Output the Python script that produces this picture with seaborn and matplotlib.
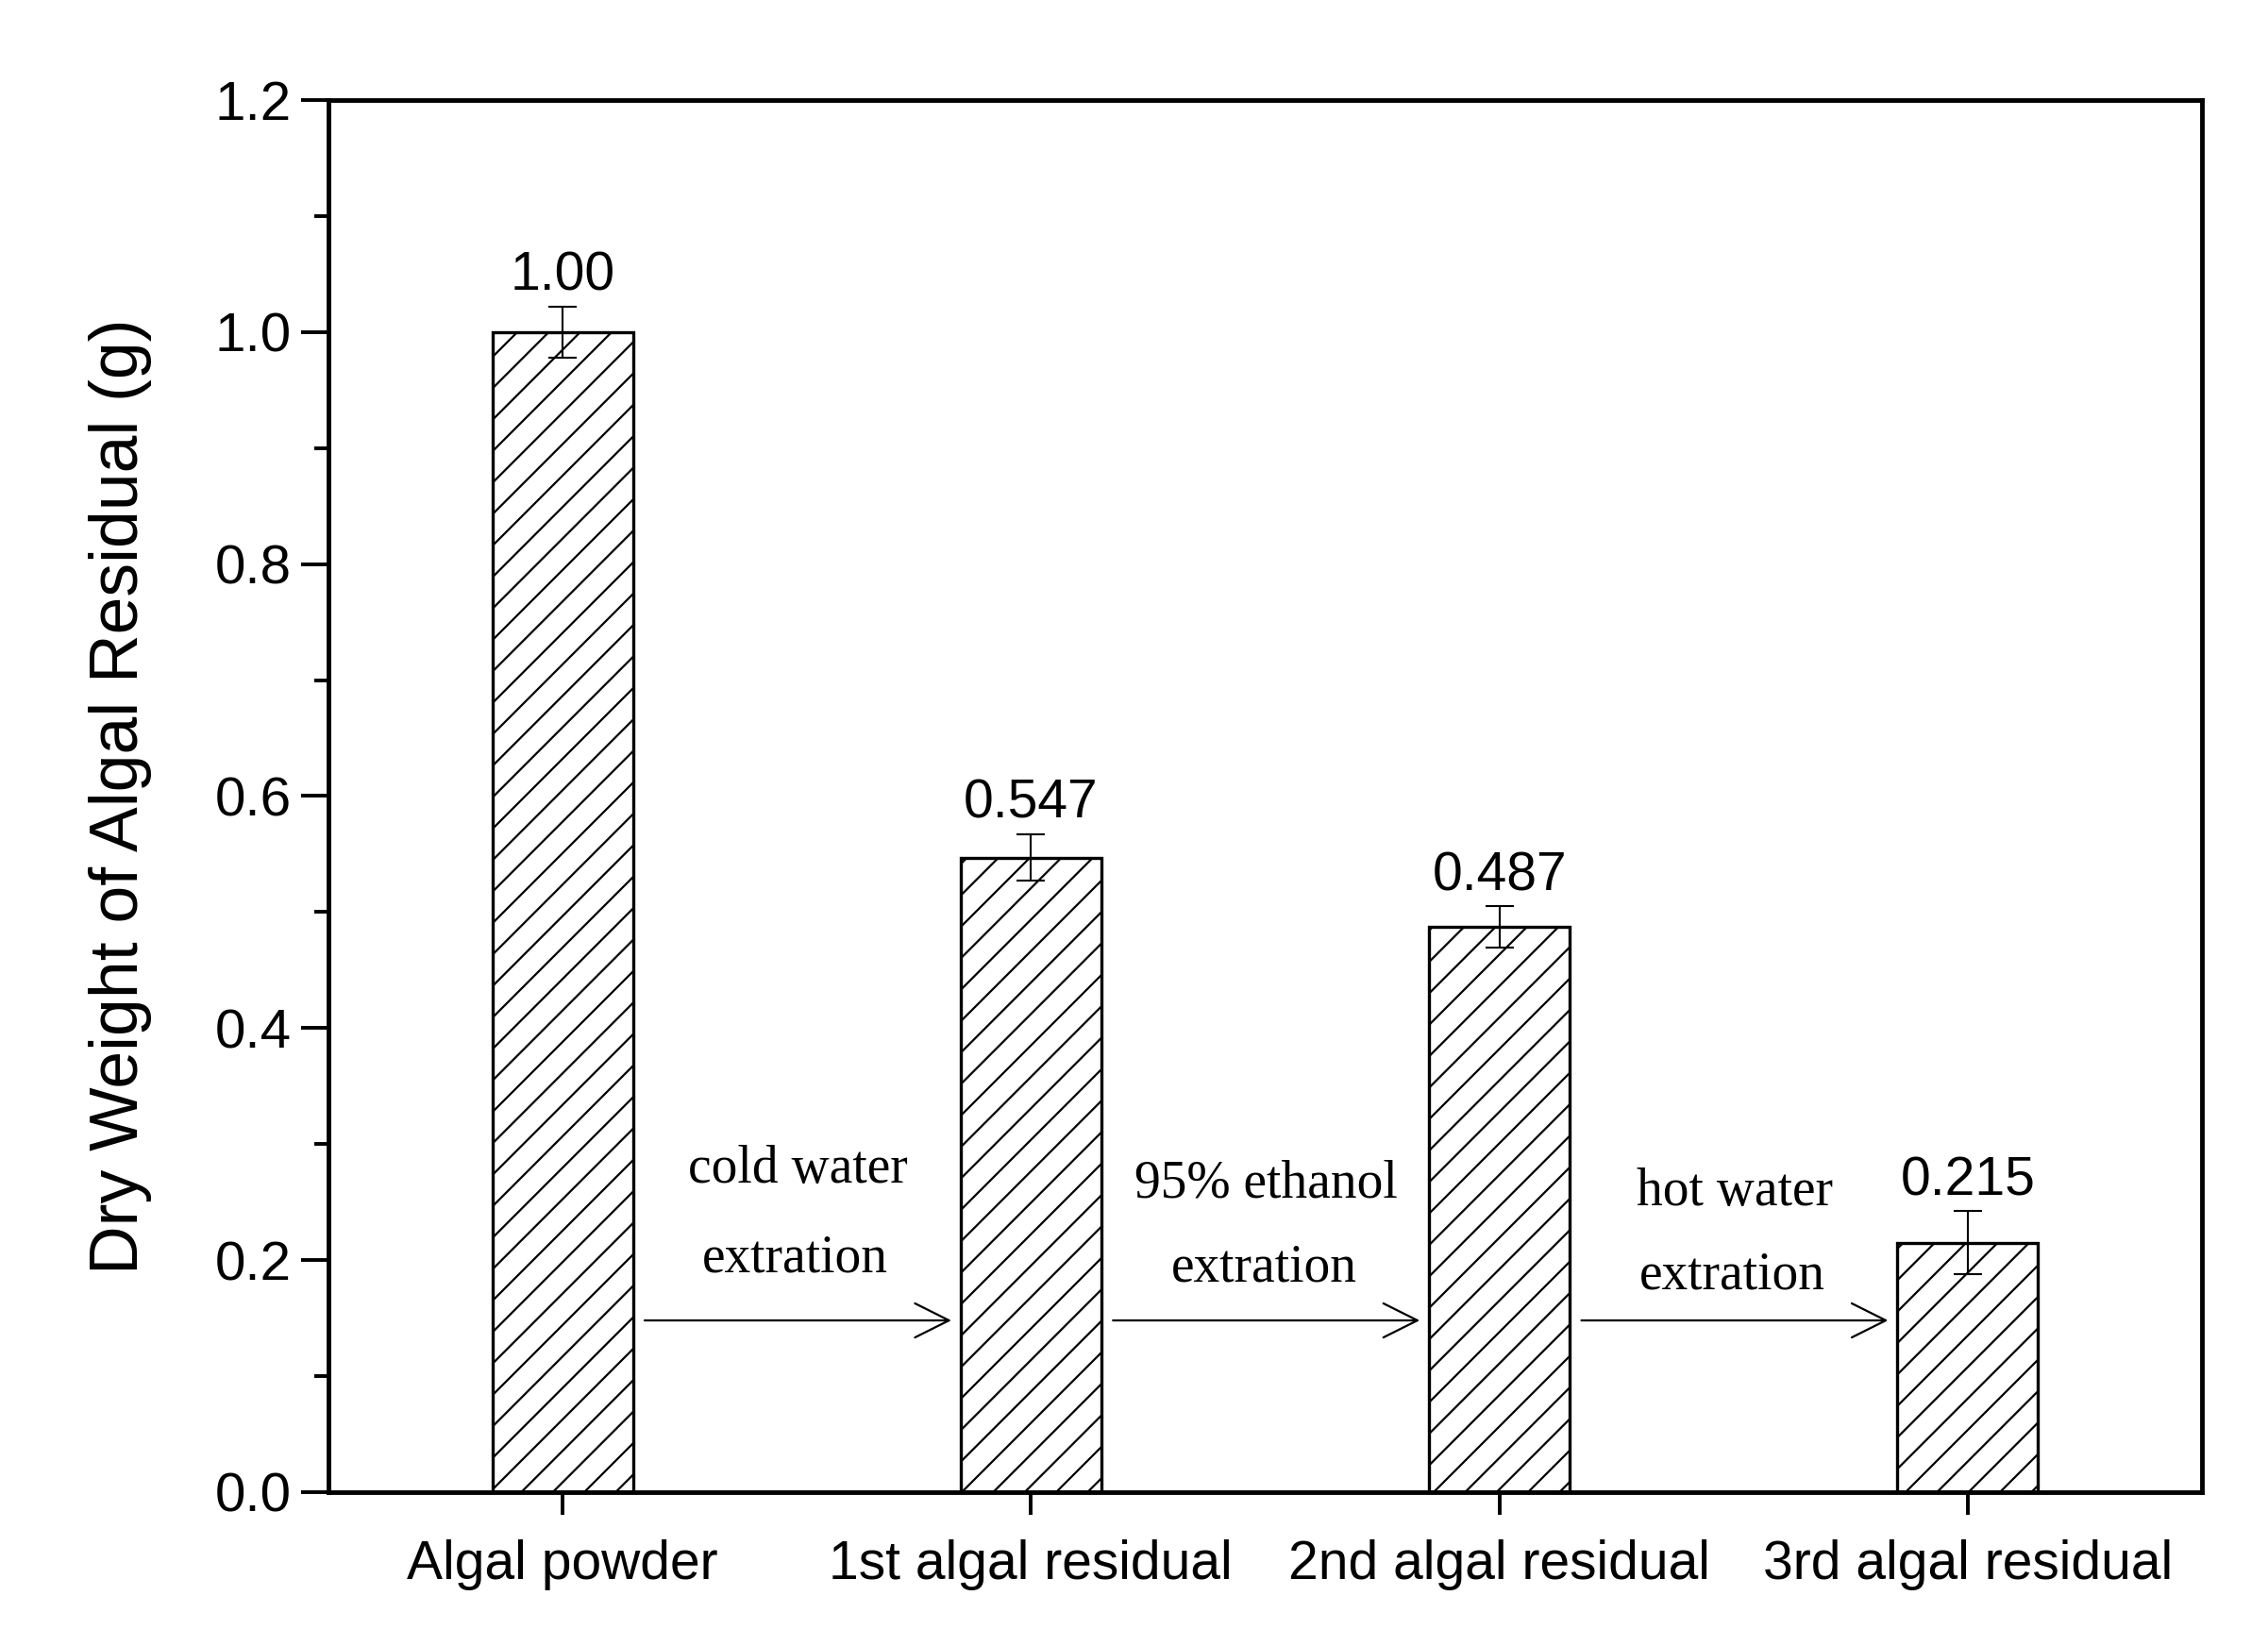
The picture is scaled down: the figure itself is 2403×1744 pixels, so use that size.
import matplotlib
matplotlib.use("Agg")
import matplotlib.pyplot as plt
import seaborn as sns
import pandas as pd

# data
samples = ["Algal powder", "1st algal residual", "2nd algal residual", "3rd algal residual"]
dry_weight = [1.00, 0.547, 0.487, 0.215]
errors = [0.022, 0.020, 0.018, 0.027]
value_labels = ["1.00", "0.547", "0.487", "0.215"]

steps_top = ["cold water", "95% ethanol", "hot water"]
steps_bottom = ["extration", "extration", "extration"]

df = pd.DataFrame({"Sample": samples, "Weight": dry_weight})

sns.set_style("ticks")
plt.rcParams["font.family"] = ["Liberation Sans", "DejaVu Sans"]
plt.rcParams["hatch.linewidth"] = 1.6
plt.rcParams["text.color"] = "black"
plt.rcParams["axes.labelcolor"] = "black"
plt.rcParams["xtick.color"] = "black"
plt.rcParams["ytick.color"] = "black"
plt.rcParams["axes.edgecolor"] = "black"

fig = plt.figure(figsize=(24.03, 17.44), dpi=100)
ax = fig.add_axes([0.1448, 0.0935, 0.8261, 0.8457])

sns.barplot(data=df, x="Sample", y="Weight", ax=ax, width=0.3,
            color="white", edgecolor="black", linewidth=2.4, errorbar=None)
for p in ax.patches:
    p.set_hatch("/")
    p.set_facecolor("white")

ax.errorbar(range(len(samples)), dry_weight, yerr=errors, fmt="none",
            ecolor="black", elinewidth=1.5, capsize=11, capthick=1.5)

for i, (v, e, lab) in enumerate(zip(dry_weight, errors, value_labels)):
    ax.text(i, v + e + 0.014, lab, ha="center", va="baseline", fontsize=41)

# extraction steps between the bars
for i in range(3):
    ax.annotate("", xy=(i + 0.83, 0.148), xytext=(i + 0.175, 0.148),
                arrowprops=dict(arrowstyle="->,head_length=1.3,head_width=0.65",
                                mutation_scale=20, lw=1.6, color="black",
                                shrinkA=0, shrinkB=0))
top_y = [0.267, 0.254, 0.247]
bot_y = [0.190, 0.182, 0.175]
for i in range(3):
    ax.text(i + 0.502, top_y[i], steps_top[i], ha="center", va="baseline",
            fontsize=40, family=["Liberation Serif"])
    ax.text(i + 0.497, bot_y[i], steps_bottom[i], ha="center", va="baseline",
            fontsize=40, family=["Liberation Serif"])

ax.set_xlim(-0.5, 3.5)
ax.set_ylim(0, 1.2)
ax.set_yticks([0.0, 0.2, 0.4, 0.6, 0.8, 1.0, 1.2])
ax.set_yticklabels(["0.0", "0.2", "0.4", "0.6", "0.8", "1.0", "1.2"])
ax.set_yticks([0.1, 0.3, 0.5, 0.7, 0.9, 1.1], minor=True)
ax.set_xlabel("")
ax.set_ylabel("Dry Weight of Algal Residual (g)", fontsize=51.5, labelpad=48)

for s in ax.spines.values():
    s.set_linewidth(3.5)
    s.set_visible(True)
ax.tick_params(axis="y", which="major", direction="out", length=21, width=2.8,
               labelsize=42, pad=7)
ax.tick_params(axis="y", which="minor", direction="out", length=11, width=2.8)
ax.tick_params(axis="x", which="major", direction="out", length=17, width=2.8,
               labelsize=41, pad=19)

fig.savefig("out.png", dpi=100)
